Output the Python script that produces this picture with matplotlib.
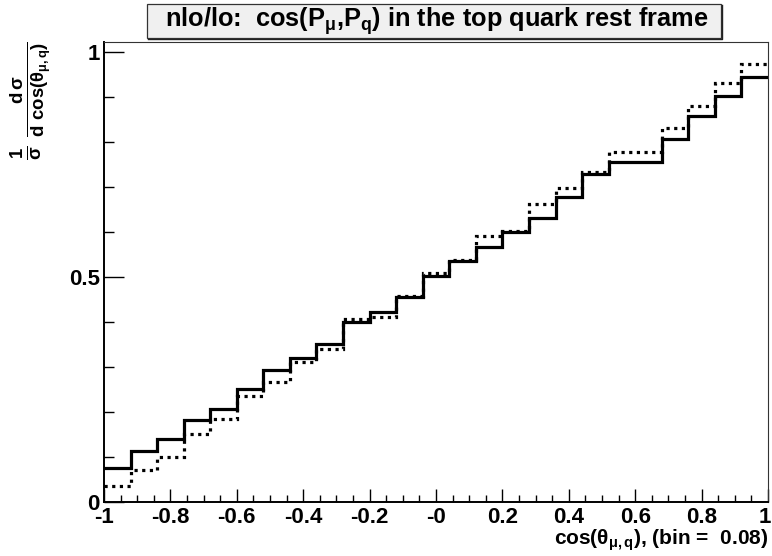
import numpy as np
import matplotlib
matplotlib.use('Agg')
import matplotlib.pyplot as plt
import matplotlib.transforms as mtransforms
from matplotlib.patches import Rectangle
from matplotlib.lines import Line2D
from matplotlib.ticker import MultipleLocator, FixedLocator

plt.rcParams['font.family'] = ['Liberation Sans', 'DejaVu Sans']
plt.rcParams['font.weight'] = 'bold'
plt.rcParams['mathtext.fontset'] = 'custom'
plt.rcParams['mathtext.rm'] = 'Liberation Sans:bold'
plt.rcParams['mathtext.it'] = 'Liberation Sans:bold'
plt.rcParams['mathtext.bf'] = 'Liberation Sans:bold'
plt.rcParams['mathtext.sf'] = 'Liberation Sans:bold'

# 25 bins of width 0.08 over cos(theta) in [-1, 1]
bin_edges = np.linspace(-1, 1, 26)
nlo_values = [0.076, 0.114, 0.140, 0.182, 0.207, 0.252, 0.293, 0.321, 0.352, 0.401,
              0.423, 0.456, 0.503, 0.535, 0.567, 0.600, 0.630, 0.678, 0.728, 0.755,
              0.755, 0.807, 0.858, 0.901, 0.944]
lo_values = [0.036, 0.070, 0.101, 0.152, 0.184, 0.236, 0.266, 0.310, 0.341, 0.406,
             0.412, 0.458, 0.508, 0.537, 0.590, 0.603, 0.662, 0.698, 0.734, 0.777,
             0.778, 0.831, 0.879, 0.932, 0.973]
x_tick_pos = [-1, -0.8, -0.6, -0.4, -0.2, 0, 0.2, 0.4, 0.6, 0.8, 1]
x_tick_labels = ['-1', '-0.8', '-0.6', '-0.4', '-0.2', '-0', '0.2', '0.4', '0.6', '0.8', '1']
y_tick_pos = [0, 0.5, 1]
y_tick_labels = ['0', '0.5', '1']

W, H = 772, 556
fig = plt.figure(figsize=(W / 100, H / 100), dpi=100)
ax = fig.add_axes([104 / W, (H - 502) / H, (768 - 104) / W, (502 - 42) / H])

ax.stairs(nlo_values, bin_edges, baseline=None, color='black', linewidth=2.3,
          linestyle='-', zorder=3)
ax.stairs(lo_values, bin_edges, baseline=None, color='black', linewidth=2.3,
          linestyle=(0, (1.0, 1.4)), zorder=4)

ax.set_xlim(-1, 1)
ax.set_ylim(0, 1.022)

ax.xaxis.set_major_locator(FixedLocator(x_tick_pos))
ax.set_xticklabels(x_tick_labels)
ax.xaxis.set_minor_locator(MultipleLocator(0.05))
ax.yaxis.set_major_locator(FixedLocator(y_tick_pos))
ax.set_yticklabels(y_tick_labels)
ax.yaxis.set_minor_locator(MultipleLocator(0.1))

ax.tick_params(axis='x', which='major', direction='in', length=9.5, width=1.0,
               labelsize=16, pad=3.5, top=False)
ax.tick_params(axis='x', which='minor', direction='in', length=4.7, width=1.0, top=False)
ax.tick_params(axis='y', which='major', direction='in', length=14.5, width=1.0,
               labelsize=16, pad=3, right=False)
ax.tick_params(axis='y', which='minor', direction='in', length=7.2, width=1.0, right=False)
for lab in ax.get_xticklabels() + ax.get_yticklabels():
    lab.set_fontweight('bold')

# keep the last x label inside the canvas
last = ax.get_xticklabels()[-1]
last.set_transform(last.get_transform() +
                   mtransforms.ScaledTranslation(-3 / 100, 0, fig.dpi_scale_trans))

ax.spines['left'].set_linewidth(1.4)
ax.spines['bottom'].set_linewidth(1.4)
ax.spines['top'].set_linewidth(0.8)
ax.spines['right'].set_linewidth(0.8)
ax.spines['top'].set_color('#333333')
ax.spines['right'].set_color('#333333')

# title box with a small shadow on the right and bottom
bx0, bx1, by0, by1 = 147, 721, 4, 38
fig.patches.append(Rectangle((bx0 / W, (H - by1) / H), (bx1 - bx0) / W, (by1 - by0) / H,
                             transform=fig.transFigure, facecolor='#f0f0f0',
                             edgecolor='#333333', linewidth=0.9))
fig.lines.append(Line2D([(bx0 + 1) / W, (bx1 + 0.8) / W, (bx1 + 0.8) / W],
                        [(H - by1 - 0.8) / H, (H - by1 - 0.8) / H, (H - by0 - 1) / H],
                        transform=fig.transFigure, color='#222222', linewidth=1.0))
fig.text(437 / W, (H - 21) / H,
         r'nlo/lo:  cos(P$_{\mu}$,P$_{q}$) in the top quark rest frame',
         ha='center', va='center', fontsize=18.3, fontweight='bold')

# axis labels
fig.text(31 / W, (H - 41) / H,
         r'$\frac{1}{\sigma}\ \frac{d\,\sigma}{d\ \cos(\theta_{\mu,q})}$',
         rotation=90, ha='center', va='top', fontsize=19)
fig.text(768 / W, (H - 540) / H, r'cos($\theta_{\mu,q}$), (bin =  0.08)',
         ha='right', va='center', fontsize=15, fontweight='bold')

fig.savefig('out.png', dpi=100, facecolor='white')
